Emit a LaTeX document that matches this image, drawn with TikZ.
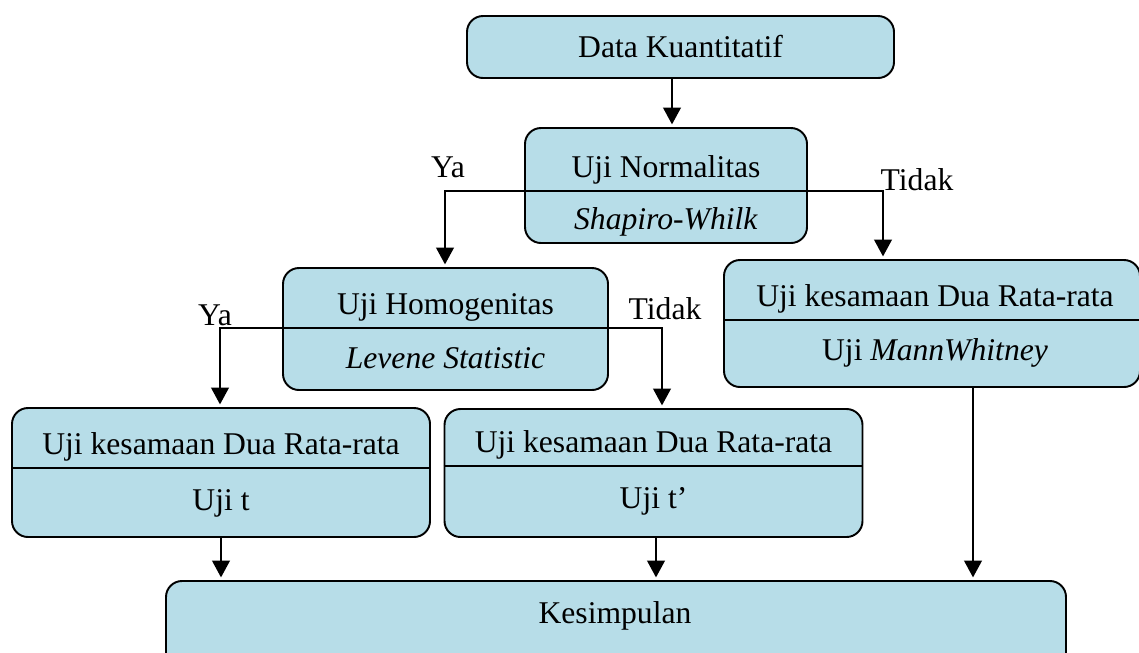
\documentclass[tikz,border=0pt]{standalone}
\usepackage{fontspec}
\setmainfont{Liberation Serif}
\usetikzlibrary{arrows.meta,positioning,calc}
\definecolor{boxblue}{RGB}{183,221,232}

\begin{document}
\begin{tikzpicture}[x=1.0cm,y=1.0cm,
    box/.style={draw, line width=1.1pt, rounded corners=0.32cm, fill=boxblue, font=\fontsize{18}{21}\selectfont},
    txt/.style={anchor=base, inner sep=0pt, font=\fontsize{18}{21}\selectfont},
    arr/.style={-{Triangle[width=10pt,length=9.5pt]}, line width=1.1pt, shorten >=1.5pt},
    sep/.style={line width=1.1pt}]
        \useasboundingbox (0,0) rectangle (22.78,-13.04);
        % boxes
        \node[box, minimum width=8.54cm, minimum height=1.24cm] (data) at (13.61,-0.94) {Data Kuantitatif};
        \node[box, minimum width=5.64cm, minimum height=2.3cm] (norm) at (13.32,-3.71) {};
        \node[box, minimum width=6.5cm, minimum height=2.44cm] (homo) at (8.91,-6.58) {};
        \node[box, minimum width=8.32cm, minimum height=2.54cm] (mann) at (18.64,-6.47) {};
        \node[box, minimum width=8.36cm, minimum height=2.58cm] (ujit) at (4.42,-9.45) {};
        \node[box, minimum width=8.36cm, minimum height=2.56cm] (ujitp) at (13.07,-9.46) {};
        \node[box, minimum width=18cm, minimum height=2.38cm] (kes) at (12.32,-12.81) {};
        % branch corners
        \coordinate (nY) at (8.9,-3.82);
        \coordinate (nT) at (17.66,-3.82);
        \coordinate (hY) at (4.4,-6.56);
        \coordinate (hT) at (13.24,-6.56);
        % connectors
        \draw[arr] (data.south -| 13.44,0) -- (norm.north -| 13.44,0);
        \draw[sep] (norm.west |- nY) -- (norm.east |- nY);
        \draw[arr] (norm.west |- nY) -| (homo.north -| nY);
        \draw[arr] (norm.east |- nT) -| (mann.north -| nT);
        \draw[sep] (homo.west |- hY) -- (homo.east |- hY);
        \draw[arr] (homo.west |- hY) -| (ujit.north -| hY);
        \draw[arr] (homo.east |- hT) -| (ujitp.north -| hT);
        \draw[sep] (mann.west |- 0,-6.4) -- (mann.east |- 0,-6.4);
        \draw[sep] (ujit.west |- 0,-9.36) -- (ujit.east |- 0,-9.36);
        \draw[sep] (ujitp.west |- 0,-9.32) -- (ujitp.east |- 0,-9.32);
        \draw[arr] (ujit.south) -- (ujit.south |- kes.north);
        \draw[arr] (ujitp.south -| 13.12,0) -- (kes.north -| 13.12,0);
        \draw[arr] (mann.south -| 19.46,0) -- (kes.north -| 19.46,0);
        % texts
        \node[txt] (normA) at (13.32,-3.54) {Uji Normalitas};
        \node[txt] (normB) at (13.32,-4.58) {\textit{Shapiro-Whilk}};
        \node[txt] (homoA) at (8.91,-6.28) {Uji Homogenitas};
        \node[txt] (homoB) at (8.91,-7.36) {\textit{Levene Statistic}};
        \node[txt] (mannA) at (18.7,-6.12) {Uji kesamaan Dua Rata-rata};
        \node[txt] (mannB) at (18.7,-7.2) {Uji \textit{MannWhitney}};
        \node[txt] (ujitA) at (4.42,-9.08) {Uji kesamaan Dua Rata-rata};
        \node[txt] (ujitB) at (4.42,-10.2) {Uji t};
        \node[txt] (ujitpA) at (13.07,-9.04) {Uji kesamaan Dua Rata-rata};
        \node[txt] (ujitpB) at (13.07,-10.16) {Uji t’};
        \node[txt] (kesT) at (12.3,-12.46) {Kesimpulan};
        % branch labels
        \node[txt] (yaN) at (8.96,-3.54) {Ya};
        \node[txt] (tidakN) at (18.34,-3.8) {Tidak};
        \node[txt] (yaH) at (4.3,-6.5) {Ya};
        \node[txt] (tidakH) at (13.3,-6.38) {Tidak};
      \end{tikzpicture}
\end{document}
